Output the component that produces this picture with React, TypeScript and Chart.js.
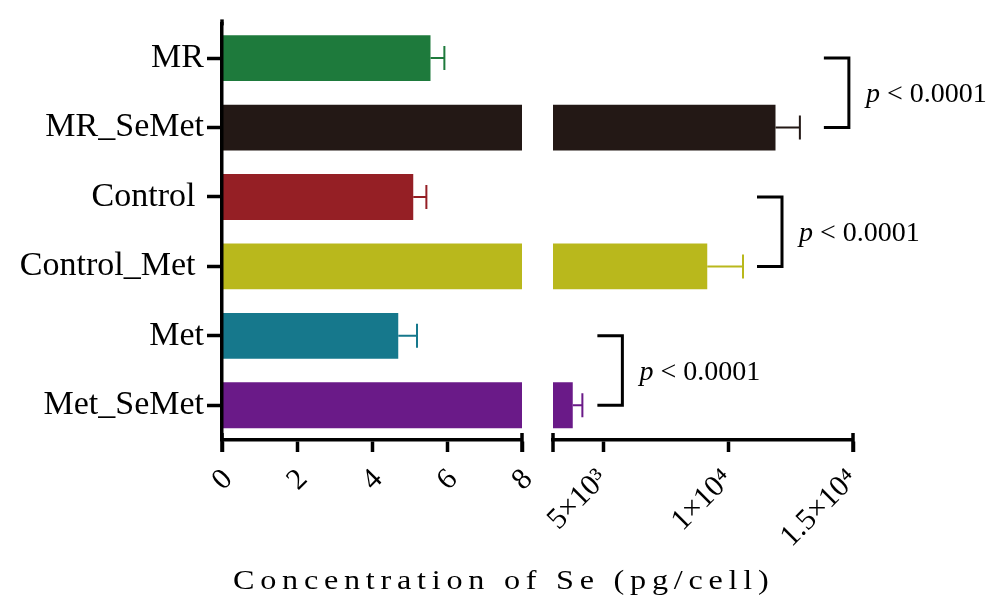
import React, { useEffect, useRef } from 'react';
import { Chart, registerables } from 'chart.js';

Chart.register(...registerables);

// ---- data ----
const categories = ['MR', 'MR_SeMet', 'Control ', 'Control_Met ', 'Met', 'Met_SeMet'];
const means = [5.56, 11900, 5.1, 9170, 4.7, 3790];
const errors = [0.37, 975, 0.35, 1430, 0.5, 385];
const barColors = ['#1e7a3c', '#231815', '#951f25', '#b9b81c', '#16788c', '#6a1a88'];
const leftTicks = [0, 2, 4, 6, 8];
const rightTicks = [5000, 10000, 15000];
const rightTickLabels = ['5×10³', '1×10⁴', '1.5×10⁴'];
const LEFT_MAX = 8;
const RIGHT_MIN = 3000;
const RIGHT_MAX = 15000;
const comparisons = [[0, 1], [2, 3], [4, 5]];
const pValueText = ['< 0.0001', '< 0.0001', '< 0.0001'];
const axisTitle = 'Concentration of Se (pg/cell)';

const SERIF = '"Liberation Serif", "Times New Roman", serif';

export default function App() {
  const ref = useRef<HTMLCanvasElement>(null);

  useEffect(() => {
    document.body.style.margin = '0';
    const canvas = ref.current;
    if (!canvas) return;

    const isRight = (v: number) => v > LEFT_MAX;
    const leftData = means.map((v) => Math.min(v, LEFT_MAX));
    const rightData = means.map((v) => (isRight(v) ? [RIGHT_MIN, v] : null));

    const errorBars = {
      id: 'errorBars',
      afterDatasetsDraw(chart: any) {
        const c = chart.ctx;
        const ys = chart.scales.y;
        means.forEach((m, i) => {
          const sc = isRight(m) ? chart.scales.x2 : chart.scales.x;
          const x0 = sc.getPixelForValue(m);
          const x1 = sc.getPixelForValue(m + errors[i]);
          const py = ys.getPixelForValue(i);
          c.save();
          c.strokeStyle = barColors[i];
          c.lineWidth = 2;
          c.beginPath();
          c.moveTo(x0, py);
          c.lineTo(x1, py);
          c.moveTo(x1, py - 12);
          c.lineTo(x1, py + 12);
          c.stroke();
          c.restore();
        });
      },
    };

    const gaps = [24, 14, 15];
    const brackets = {
      id: 'brackets',
      afterDraw(chart: any) {
        const c = chart.ctx;
        const ys = chart.scales.y;
        const sc = chart.scales.x2;
        comparisons.forEach(([a, b], k) => {
          const top = ys.getPixelForValue(a);
          const bot = ys.getPixelForValue(b);
          const x0 = sc.getPixelForValue(means[b] + errors[b]) + gaps[k];
          const x1 = x0 + 25;
          c.save();
          c.strokeStyle = '#000';
          c.lineWidth = 3;
          c.lineJoin = 'miter';
          c.beginPath();
          c.moveTo(x0, top);
          c.lineTo(x1, top);
          c.lineTo(x1, bot);
          c.lineTo(x0, bot);
          c.stroke();
          const mid = (top + bot) / 2;
          c.fillStyle = '#000';
          c.textBaseline = 'alphabetic';
          c.textAlign = 'left';
          c.font = `italic 28px ${SERIF}`;
          const tx = x1 + 17;
          const ty = mid + 9;
          c.fillText('p', tx, ty);
          const w = c.measureText('p').width;
          c.font = `28px ${SERIF}`;
          c.fillText(' ' + pValueText[k], tx + w, ty);
          c.restore();
        });
      },
    };

    const endCaps = {
      id: 'endCaps',
      afterDraw(chart: any) {
        const c = chart.ctx;
        c.save();
        c.strokeStyle = '#000';
        c.lineWidth = 3.5;
        ['x', 'x2'].forEach((id) => {
          const s = chart.scales[id];
          const yb = s.top;
          [s.left, s.right].forEach((px: number) => {
            c.beginPath();
            c.moveTo(px, yb - 7);
            c.lineTo(px, yb + 12);
            c.stroke();
          });
        });
        // y axis extends slightly above the plot area
        const ys = chart.scales.y;
        c.beginPath();
        c.moveTo(ys.right, ys.top - 4);
        c.lineTo(ys.right, ys.top + 2);
        c.stroke();
        c.restore();
      },
    };

    const titlePlugin = {
      id: 'axisTitle',
      afterDraw(chart: any) {
        const c = chart.ctx;
        c.save();
        c.fillStyle = '#000';
        c.font = `28px ${SERIF}`;
        (c as any).letterSpacing = '5px';
        c.textAlign = 'left';
        c.textBaseline = 'alphabetic';
        c.translate(233, 589);
        c.scale(1.15, 1);
        c.fillText(axisTitle, 0, 0);
        c.restore();
      },
    };

    const xTickCommon = {
      color: '#000',
      font: { family: SERIF, size: 30 },
      minRotation: 45,
      maxRotation: 45,
      padding: 10,
      autoSkip: false,
    };
    const xGridCommon = {
      display: true,
      drawOnChartArea: false,
      tickLength: 12,
      tickWidth: 3.5,
      tickColor: '#000',
    };
    const xBorder = { display: true, color: '#000', width: 3.5, z: 1 };

    const chart = new Chart(canvas, {
      type: 'bar',
      data: {
        labels: categories,
        datasets: [
          {
            data: leftData as any,
            xAxisID: 'x',
            backgroundColor: barColors,
            borderWidth: 0,
          },
          {
            data: rightData as any,
            xAxisID: 'x2',
            backgroundColor: barColors,
            borderWidth: 0,
          },
        ],
      },
      options: {
        indexAxis: 'y',
        responsive: false,
        animation: false,
        layout: { padding: { top: 20, right: 138, bottom: 0, left: 0 } },
        datasets: {
          bar: { grouped: false, categoryPercentage: 1, barPercentage: 0.66 },
        } as any,
        plugins: {
          legend: { display: false },
          tooltip: { enabled: false },
          title: { display: false },
        },
        scales: {
          y: {
            type: 'category',
            position: 'left',
            offset: true,
            grid: {
              display: true,
              offset: false,
              drawOnChartArea: false,
              tickLength: 15,
              tickWidth: 3.5,
              tickColor: '#000',
            },
            border: { display: true, color: '#000', width: 3.5, z: 1 },
            ticks: {
              color: '#000',
              font: { family: SERIF, size: 34 },
              padding: 3,
              autoSkip: false,
            },
            afterFit: (s: any) => {
              s.width = 222;
            },
          } as any,
          x: {
            type: 'linear',
            position: 'bottom',
            stack: 'bottom',
            stackWeight: 300,
            min: 0,
            max: LEFT_MAX,
            afterBuildTicks: (s: any) => {
              s.ticks = leftTicks.map((v) => ({ value: v }));
            },
            grid: xGridCommon,
            border: xBorder,
            ticks: { ...xTickCommon, labelOffset: 6 },
            afterFit: (s: any) => {
              s.height = 165;
            },
          } as any,
          xGap: {
            type: 'linear',
            position: 'bottom',
            stack: 'bottom',
            stackWeight: 31,
            grid: { display: false },
            border: { display: false },
            ticks: { display: false },
            afterFit: (s: any) => {
              s.height = 165;
            },
          } as any,
          x2: {
            type: 'linear',
            position: 'bottom',
            stack: 'bottom',
            stackWeight: 300,
            min: RIGHT_MIN,
            max: RIGHT_MAX,
            afterBuildTicks: (s: any) => {
              s.ticks = rightTicks.map((v) => ({ value: v }));
            },
            grid: xGridCommon,
            border: xBorder,
            ticks: {
              ...xTickCommon,
              callback: (v: any) => {
                const i = rightTicks.indexOf(Number(v));
                return i >= 0 ? rightTickLabels[i] : '';
              },
            },
            afterFit: (s: any) => {
              s.height = 165;
            },
          } as any,
        },
      },
      plugins: [errorBars, brackets, endCaps, titlePlugin],
    });

    return () => chart.destroy();
  }, []);

  return (
    <div style={{ width: 991, height: 605, background: '#fff' }}>
      <canvas ref={ref} width={991} height={605} style={{ display: 'block' }} />
    </div>
  );
}
